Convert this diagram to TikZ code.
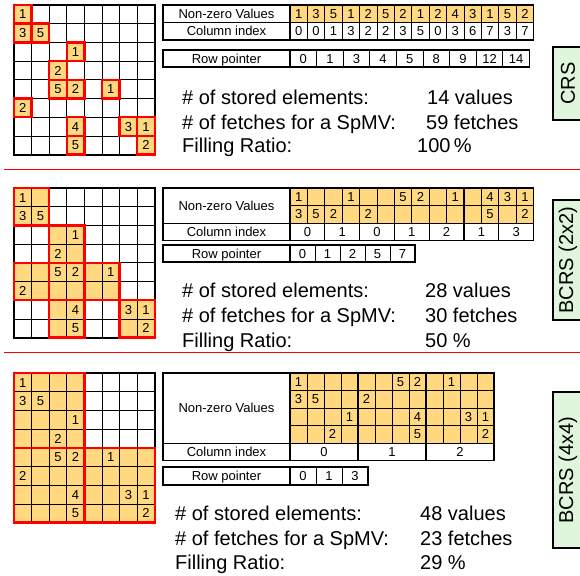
\documentclass[tikz,border=0pt]{standalone}
\usepackage{fontspec}
\setmainfont{Liberation Sans}

\definecolor{nzorange}{RGB}{255,216,128}
\definecolor{kindgreen}{RGB}{224,246,220}

\newcommand{\statfont}{\fontsize{20}{23}\selectfont}
\newcommand{\tabfont}{\fontsize{13}{15}\selectfont}
% matrix cell and table cell sizes (1 unit = 1pt)
\newcommand{\mcw}{17.6}
\newcommand{\mch}{18.7}
\newcommand{\tcw}{17.4}
\newcommand{\tcwq}{17.0}
\newcommand{\tch}{17.5}
% row/col/value of the sparse matrix
\newcommand{\nzlist}{0/0/1,1/0/3,1/1/5,2/3/1,3/2/2,4/2/5,4/3/2,4/5/1,5/0/2,6/3/4,6/6/3,6/7/1,7/3/5,7/7/2}
\newcommand{\sparsegrid}{%
  \foreach \i in {0,...,8} {
    \draw[gridline] ({14+\i*\mcw},5) -- ++(0,{8*\mch});
    \draw[gridline] (14,{5+\i*\mch}) -- ++({8*\mcw},0);
  }
  \draw[matframe] (14,5) rectangle ++({8*\mcw},{8*\mch});}
\newcommand{\sparsevals}{%
  \foreach \r/\c/\v in \nzlist
    \node[tabtext] at ({14+(\c+0.5)*\mcw},{5+(\r+0.5)*\mch}) {\v};}

\tikzset{
  gridline/.style={line width=0.7pt},
  matframe/.style={line width=1.8pt},
  nzbox/.style={draw=red, line width=2.4pt},
  tabline/.style={line width=0.7pt},
  blockline/.style={line width=1.3pt},
  tabframe/.style={line width=1.6pt},
  tabtext/.style={font=\tabfont, inner sep=0pt, text height=9.3pt, text depth=0pt},
  stattext/.style={font=\statfont, anchor=base west, inner sep=0pt},
  kindbox/.style={draw, line width=1.2pt, fill=kindgreen},
  kindtext/.style={font=\statfont, rotate=90, inner sep=0pt},
  sepline/.style={red, line width=1pt}
}

\begin{document}
\begin{tikzpicture}[x=1pt, y=-1pt]
  \useasboundingbox (0,0) rectangle (580,575);
  \clip (0,0) rectangle (580,575);

  % ---- CRS
  \begin{scope}
    \foreach \r/\c/\v in \nzlist
      \fill[nzorange] ({14+\c*\mcw},{5+\r*\mch}) rectangle ++(\mcw,\mch);
    \sparsegrid
    \foreach \r/\c/\v in \nzlist
      \draw[nzbox] ({14+\c*\mcw},{5+\r*\mch}) rectangle ++(\mcw,\mch);
    \sparsevals

    \fill[nzorange] (290,5) rectangle ++({14*\tcw},\tch);
    \foreach \i in {1,...,13} \draw[tabline] ({290+\i*\tcw},5) -- ++(0,{2*\tch});
    \draw[tabline] (163,{5+\tch}) -- ++({127+14*\tcw},0);
    \draw[tabframe] (163,5) rectangle ({290+14*\tcw},{5+2*\tch});
    \draw[tabframe] (290,5) -- ++(0,{2*\tch});
    \node[tabtext] (nzv1) at (226.5,{5+0.5*\tch}) {Non-zero Values};
    \node[tabtext] (cix1) at (226.5,{5+1.5*\tch}) {Column index};
    \foreach \v [count=\i from 0] in {1,3,5,1,2,5,2,1,2,4,3,1,5,2}
      \node[tabtext] (val1-\i) at ({290+(\i+0.5)*\tcw},{5+0.5*\tch}) {\v};
    \foreach \v [count=\i from 0] in {0,0,1,3,2,2,3,5,0,3,6,7,3,7}
      \node[tabtext] (col1-\i) at ({290+(\i+0.5)*\tcw},{5+1.5*\tch}) {\v};

    \foreach \i in {1,...,8} \draw[tabline] ({290+\i*26.6},50) -- ++(0,17);
    \draw[tabframe] (163,50) rectangle ({290+9*26.6},67);
    \draw[tabframe] (290,50) -- ++(0,17);
    \node[tabtext] (rp1) at (226.5,58.5) {Row pointer};
    \foreach \v [count=\i from 0] in {0,1,3,4,5,8,9,12,14}
      \node[tabtext] (ptr1-\i) at ({290+(\i+0.5)*26.6},58.5) {\v};

    \node[stattext] (st1) at (182,105) {\# of stored elements:};
    \node[stattext] (fe1) at (182,129) {\# of fetches for a SpMV:};
    \node[stattext] (fr1) at (182,152) {Filling Ratio:};
    \node[stattext] at (427,105) {14 values};
    \node[stattext] at (426,129) {59 fetches};
    \node[stattext] at (417,152) {100\,\%};

    \draw[kindbox] (553,47) rectangle (592,120);
    \node[kindtext] (crs) at (568,83.5) {CRS};
  \end{scope}

  \draw[sepline] (4,169) -- (580,169);

  % ---- BCRS 2x2
  \begin{scope}[shift={(0,183)}]
    \foreach \br/\bc in {0/0,1/1,2/0,2/1,2/2,3/1,3/3}
      \fill[nzorange] ({14+2*\bc*\mcw},{5+2*\br*\mch}) rectangle ++({2*\mcw},{2*\mch});
    \sparsegrid
    \foreach \br/\bc in {0/0,1/1,2/0,2/1,2/2,3/1,3/3}
      \draw[nzbox] ({14+2*\bc*\mcw},{5+2*\br*\mch}) rectangle ++({2*\mcw},{2*\mch});
    \sparsevals

    \fill[nzorange] (290,5) rectangle ++({14*\tcw},{2*\tch});
    \foreach \i in {1,...,13} \draw[tabline] ({290+\i*\tcw},5) -- ++(0,{2*\tch});
    \draw[tabline] (290,{5+\tch}) -- ++({14*\tcw},0);
    \draw[tabline] (163,{5+2*\tch}) -- ++({127+14*\tcw},0);
    \foreach \i in {2,4,...,12} \draw[blockline] ({290+\i*\tcw},5) -- ++(0,{3*\tch});
    \draw[tabframe] (163,5) rectangle ({290+14*\tcw},{5+3*\tch});
    \draw[tabframe] (290,5) -- ++(0,{3*\tch});
    \node[tabtext] (nzv2) at (226.5,{5+\tch}) {Non-zero Values};
    \node[tabtext] (cix2) at (226.5,{5+2.5*\tch}) {Column index};
    \foreach \i/\v in {0/1,3/1,6/5,7/2,9/1,11/4,12/3,13/1}
      \node[tabtext] at ({290+(\i+0.5)*\tcw},{5+0.5*\tch}) {\v};
    \foreach \i/\v in {0/3,1/5,2/2,4/2,11/5,13/2}
      \node[tabtext] at ({290+(\i+0.5)*\tcw},{5+1.5*\tch}) {\v};
    \foreach \v [count=\i from 0] in {0,1,0,1,2,1,3}
      \node[tabtext] (col2-\i) at ({290+(2*\i+1)*\tcw},{5+2.5*\tch}) {\v};

    \foreach \i in {1,...,4} \draw[tabline] ({290+\i*25},62) -- ++(0,17);
    \draw[tabframe] (163,62) rectangle ({290+5*25},79);
    \draw[tabframe] (290,62) -- ++(0,17);
    \node[tabtext] (rp2) at (226.5,70.5) {Row pointer};
    \foreach \v [count=\i from 0] in {0,1,2,5,7}
      \node[tabtext] (ptr2-\i) at ({290+(\i+0.5)*25},70.5) {\v};

    \node[stattext] (st2) at (182,114) {\# of stored elements:};
    \node[stattext] (fe2) at (182,139) {\# of fetches for a SpMV:};
    \node[stattext] (fr2) at (182,164) {Filling Ratio:};
    \node[stattext] at (425,114) {28 values};
    \node[stattext] at (425,139) {30 fetches};
    \node[stattext] at (425,164) {50 \%};

    \draw[kindbox] (553,17) rectangle (592,137);
    \node[kindtext] (bcrs2) at (568,77) {BCRS (2x2)};
  \end{scope}

  \draw[sepline] (4,352) -- (580,352);

  % ---- BCRS 4x4
  \begin{scope}[shift={(0,368)}]
    \foreach \br/\bc in {0/0,1/0,1/1}
      \fill[nzorange] ({14+4*\bc*\mcw},{5+4*\br*\mch}) rectangle ++({4*\mcw},{4*\mch});
    \sparsegrid
    \foreach \br/\bc in {0/0,1/0,1/1}
      \draw[nzbox] ({14+4*\bc*\mcw},{5+4*\br*\mch}) rectangle ++({4*\mcw},{4*\mch});
    \sparsevals

    \fill[nzorange] (290,5) rectangle ++({12*\tcwq},{4*\tch});
    \foreach \i in {1,...,11} \draw[tabline] ({290+\i*\tcwq},5) -- ++(0,{4*\tch});
    \foreach \j in {1,2,3} \draw[tabline] (290,{5+\j*\tch}) -- ++({12*\tcwq},0);
    \draw[tabline] (163,{5+4*\tch}) -- ++({127+12*\tcwq},0);
    \foreach \i in {4,8} \draw[blockline] ({290+\i*\tcwq},5) -- ++(0,{5*\tch});
    \draw[tabframe] (163,5) rectangle ({290+12*\tcwq},{5+5*\tch});
    \draw[tabframe] (290,5) -- ++(0,{5*\tch});
    \node[tabtext] (nzv3) at (226.5,{5+2*\tch}) {Non-zero Values};
    \node[tabtext] (cix3) at (226.5,{5+4.5*\tch}) {Column index};
    \foreach \r/\i/\v in {0/0/1,1/0/3,1/1/5,2/3/1,3/2/2,0/6/5,0/7/2,0/9/1,1/4/2,2/7/4,2/10/3,2/11/1,3/7/5,3/11/2}
      \node[tabtext] at ({290+(\i+0.5)*\tcwq},{5+(\r+0.5)*\tch}) {\v};
    \foreach \v [count=\i from 0] in {0,1,2}
      \node[tabtext] (col3-\i) at ({290+(4*\i+2)*\tcwq},{5+4.5*\tch}) {\v};

    \foreach \i in {1,2} \draw[tabline] ({290+\i*26},99) -- ++(0,18);
    \draw[tabframe] (163,99) rectangle ({290+3*26},117);
    \draw[tabframe] (290,99) -- ++(0,18);
    \node[tabtext] (rp3) at (226.5,108) {Row pointer};
    \foreach \v [count=\i from 0] in {0,1,3}
      \node[tabtext] (ptr3-\i) at ({290+(\i+0.5)*26},108) {\v};

    \node[stattext] (st3) at (175,152) {\# of stored elements:};
    \node[stattext] (fe3) at (175,177) {\# of fetches for a SpMV:};
    \node[stattext] (fr3) at (175,201) {Filling Ratio:};
    \node[stattext] at (420,152) {48 values};
    \node[stattext] at (420,177) {23 fetches};
    \node[stattext] at (420,201) {29 \%};

    \draw[kindbox] (553,24) rectangle (592,180);
    \node[kindtext] (bcrs4) at (568,102) {BCRS (4x4)};
  \end{scope}
\end{tikzpicture}
\end{document}
